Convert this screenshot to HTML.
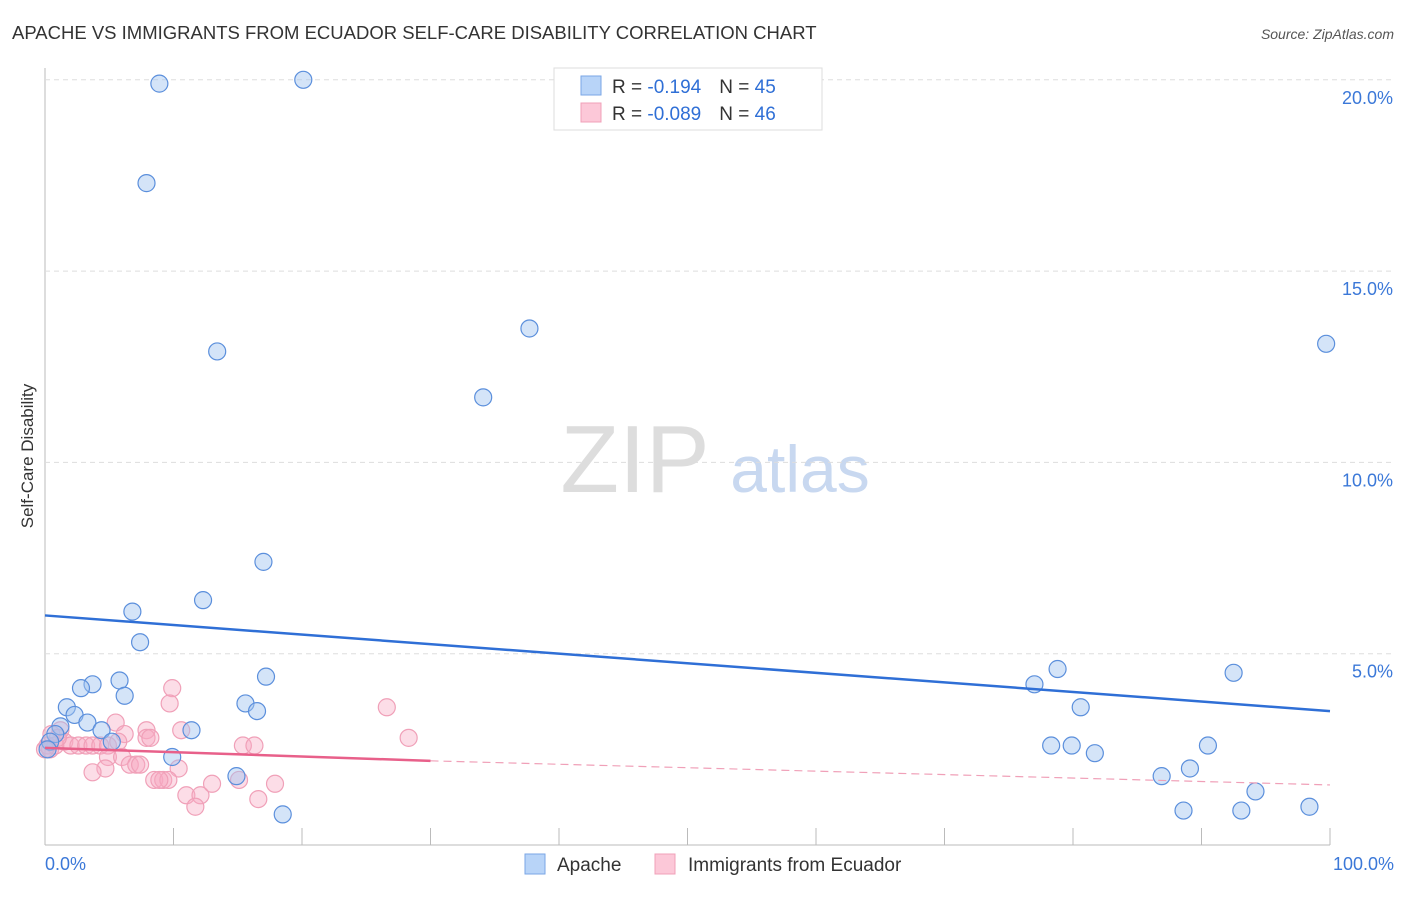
<!DOCTYPE html>
<html><head><meta charset="utf-8"><style>
body{margin:0;background:#fff;font-family:"Liberation Sans",sans-serif}
svg text{font-family:"Liberation Sans",sans-serif}
</style></head><body>
<svg id="c" width="1406" height="892">
<text x="12" y="39" font-size="18.5" fill="#333">APACHE VS IMMIGRANTS FROM ECUADOR SELF-CARE DISABILITY CORRELATION CHART</text>
<text x="1394" y="39" font-size="14" fill="#555" text-anchor="end" font-style="italic">Source: ZipAtlas.com</text>
<text x="33" y="456" font-size="17" fill="#333" text-anchor="middle" transform="rotate(-90 33 456)">Self-Care Disability</text>
<text x="635" y="492" font-size="96" fill="#ddd" font-family="Liberation Serif" text-anchor="middle">ZIP</text>
<text x="800" y="492" font-size="66" fill="#c8d8f0" text-anchor="middle">atlas</text>
<g id="grid"></g><g id="pts"></g><g id="trend"></g>
<g>
<rect x="554" y="68" width="268" height="62" fill="#fff" stroke="#ddd"/>
<rect x="581" y="76" width="20" height="19" fill="#b8d4f8" stroke="#7aa6e6"/>
<rect x="581" y="103" width="20" height="19" fill="#fcc8d8" stroke="#f0a0b8"/>
<text x="612" y="93" font-size="19" fill="#333">R = <tspan fill="#2f6fd6"> -0.194</tspan><tspan dx="18">N = </tspan><tspan fill="#2f6fd6">45</tspan></text>
<text x="612" y="120" font-size="19" fill="#333">R = <tspan fill="#2f6fd6">-0.089</tspan><tspan dx="18">N = </tspan><tspan fill="#2f6fd6">46</tspan></text>
</g>
<g>
<rect x="525" y="854" width="20" height="20" fill="#b8d4f8" stroke="#7aa6e6"/>
<text x="557" y="871" font-size="19" fill="#333">Apache</text>
<rect x="655" y="854" width="20" height="20" fill="#fcc8d8" stroke="#f0a0b8"/>
<text x="688" y="871" font-size="19" fill="#333">Immigrants from Ecuador</text>
</g>
</svg>
<script>
const yTicks=[5,10,15,20];
const yTickLabels=["5.0%","10.0%","15.0%","20.0%"];
const xTickLabels=["0.0%","100.0%"];
const apacheX=[8.9,20.1,7.9,13.4,37.7,34.1,99.7,17.0,12.3,6.8,7.4,3.7,5.8,2.8,6.2,17.2,1.7,2.3,15.6,16.5,1.2,3.3,0.8,4.4,5.2,11.4,9.9,14.9,18.5,78.8,77.0,80.6,78.3,79.9,81.7,92.5,90.5,86.9,89.1,88.6,93.1,94.2,98.4,0.4,0.2];
const apacheY=[19.9,20.0,17.3,12.9,13.5,11.7,13.1,7.4,6.4,6.1,5.3,4.2,4.3,4.1,3.9,4.4,3.6,3.4,3.7,3.5,3.1,3.2,2.9,3.0,2.7,3.0,2.3,1.8,0.8,4.6,4.2,3.6,2.6,2.6,2.4,4.5,2.6,1.8,2.0,0.9,0.9,1.4,1.0,2.7,2.5];
const ecuX=[9.9,9.7,26.6,28.3,5.5,10.6,7.9,6.2,7.9,8.2,1.2,0.5,1.5,2.0,2.6,3.2,3.7,4.3,4.9,5.7,15.4,16.3,4.9,6.0,6.6,7.1,4.7,3.7,10.4,8.5,9.2,9.6,11.0,13.0,12.1,11.7,15.1,17.9,16.6,0.2,0.4,0.8,0,1.0,7.4,8.9];
const ecuY=[4.1,3.7,3.6,2.8,3.2,3.0,3.0,2.9,2.8,2.8,3.0,2.9,2.7,2.6,2.6,2.6,2.6,2.6,2.6,2.7,2.6,2.6,2.3,2.3,2.1,2.1,2.0,1.9,2.0,1.7,1.7,1.7,1.3,1.6,1.3,1.0,1.7,1.6,1.2,2.6,2.5,2.6,2.5,2.8,2.1,1.7];
const X=v=>45+v*12.85, Y=v=>845-v*38.26;
const ns="http://www.w3.org/2000/svg";
function mk(t,a,p){const e=document.createElementNS(ns,t);for(const k in a)e.setAttribute(k,a[k]);p.appendChild(e);return e;}
const g=document.getElementById('grid'),pts=document.getElementById('pts'),tr=document.getElementById('trend');
let ax=mk('line',{x1:45,y1:68,x2:45,y2:845,stroke:'#bbb'},g);


let bx=mk('line',{x1:45,y1:845,x2:1330,y2:845,stroke:'#bbb'},g);


yTicks.forEach((t,i)=>{let l=mk('line',{x1:45,y1:Y(t),x2:1394,y2:Y(t),stroke:'#ddd','stroke-dasharray':'5,4'},g);


let tx=mk('text',{x:1393,y:Y(t)+24,'font-size':18,fill:'#3b78d8','text-anchor':'end'},g);tx.textContent=yTickLabels[i];

});
for(let i=1;i<=10;i++){let l=mk('line',{x1:X(i*10),y1:828,x2:X(i*10),y2:845,stroke:'#bbb'},g);

}
[[0,45,'start'],[1,1394,'end']].forEach(([i,x,a])=>{let t=mk('text',{x:x,y:870,'font-size':18,fill:'#3b78d8','text-anchor':a},g);t.textContent=xTickLabels[i];

});
ecuX.forEach((x,i)=>{let c=mk('circle',{cx:X(x),cy:Y(ecuY[i]),r:8.5,fill:'rgba(248,170,195,0.4)',stroke:'#f0a0b8','stroke-width':1.2},pts);

});
apacheX.forEach((x,i)=>{let c=mk('circle',{cx:X(x),cy:Y(apacheY[i]),r:8.5,fill:'rgba(160,195,240,0.45)',stroke:'#5b8fdc','stroke-width':1.2},pts);

});
let bl=mk('line',{x1:X(0),y1:Y(6.0),x2:X(100),y2:Y(3.5),stroke:'#2f6fd6','stroke-width':2.5},tr);


let pl=mk('line',{x1:X(0),y1:Y(2.54),x2:X(30),y2:Y(2.2),stroke:'#e8608a','stroke-width':2.5},tr);


let pd=mk('line',{x1:X(30),y1:Y(2.2),x2:X(100),y2:Y(1.57),stroke:'#f0a0b8','stroke-width':1.2,'stroke-dasharray':'8,5'},tr);


</script>
</body></html>
